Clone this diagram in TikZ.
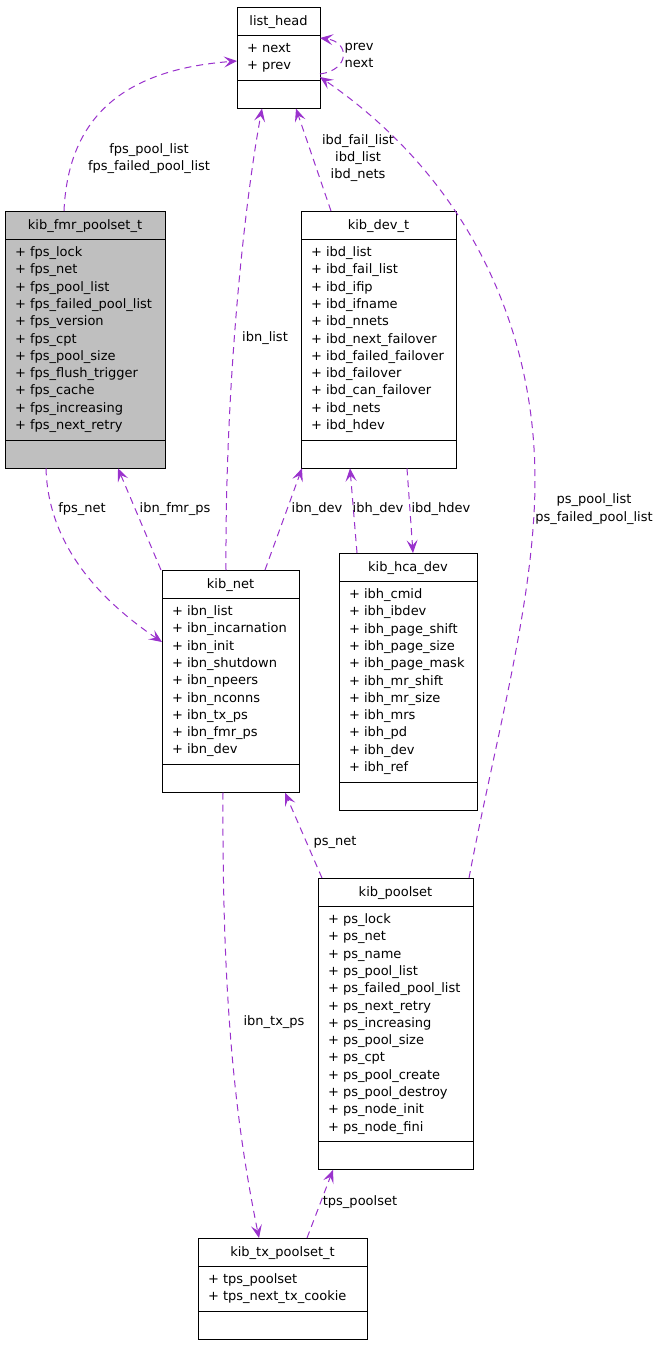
\documentclass[tikz,border=0pt]{standalone}
\usepackage{fontspec}
\setmainfont{DejaVu Sans}
\usetikzlibrary{arrows.meta,calc}
\definecolor{edgec}{HTML}{9A32CD}
\definecolor{fmrfill}{HTML}{BFBFBF}
\tikzset{
  classbox/.style={draw=black, line width=1pt, inner sep=0pt, outer sep=0pt, rectangle},
  sepline/.style={draw=black, line width=1pt},
  txt/.style={inner sep=0pt, outer sep=0pt, font=\fontsize{13}{17.3}\selectfont},
  lbl/.style={inner sep=0pt, outer sep=0pt, align=center, font=\fontsize{13}{17.3}\selectfont},
  rel/.style={draw=edgec, line width=1pt, dash pattern=on 7pt off 5pt,
    -{Stealth[length=13pt,width=11pt,inset=5.5pt]}, edgec},
}
% #1 fill, #2 name, #3 x, #4 y, #5 width, #6 rows, #7 title, #8 attributes
\newcommand{\umlclass}[8][white]{%
  \pgfmathsetmacro\umlah{11+17.3*#6}%
  \pgfmathsetmacro\umltot{56+\umlah}%
  \node[classbox, fill=#1, minimum width=#5pt, minimum height=\umltot pt, anchor=north west] (#2) at (#3,#4) {};
  \draw[sepline] ($(#2.north west)+(0,28)$) -- ($(#2.north east)+(0,28)$);
  \draw[sepline] ($(#2.south west)+(0,-28)$) -- ($(#2.south east)+(0,-28)$);
  \node[txt, anchor=base] (#2-t) at ($(#2.north)+(0,18.5)$) {#7};
  \foreach \a [count=\i] in {#8} {
    \node[txt, anchor=base west] (#2-a\i) at ($(#2.north west)+(10,{45.5+17.3*(\i-1)})$) {\a};
  }
}
\begin{document}
\begin{tikzpicture}[x=1pt,y=-1pt]
\useasboundingbox[fill=white] (0,0) rectangle (660,1347);

\umlclass{lh}{237}{7}{83}{2}{list\_head}{+ next,+ prev}
\umlclass[fmrfill]{fmr}{5}{211}{160}{11}{kib\_fmr\_poolset\_t}{+ fps\_lock,+ fps\_net,+ fps\_pool\_list,+ fps\_failed\_pool\_list,+ fps\_version,+ fps\_cpt,+ fps\_pool\_size,+ fps\_flush\_trigger,+ fps\_cache,+ fps\_increasing,+ fps\_next\_retry}
\umlclass{dev}{301}{211}{155}{11}{kib\_dev\_t}{+ ibd\_list,+ ibd\_fail\_list,+ ibd\_ifip,+ ibd\_ifname,+ ibd\_nnets,+ ibd\_next\_failover,+ ibd\_failed\_failover,+ ibd\_failover,+ ibd\_can\_failover,+ ibd\_nets,+ ibd\_hdev}
\umlclass{net}{162}{570}{137}{9}{kib\_net}{+ ibn\_list,+ ibn\_incarnation,+ ibn\_init,+ ibn\_shutdown,+ ibn\_npeers,+ ibn\_nconns,+ ibn\_tx\_ps,+ ibn\_fmr\_ps,+ ibn\_dev}
\umlclass{hca}{339}{553}{138}{11}{kib\_hca\_dev}{+ ibh\_cmid,+ ibh\_ibdev,+ ibh\_page\_shift,+ ibh\_page\_size,+ ibh\_page\_mask,+ ibh\_mr\_shift,+ ibh\_mr\_size,+ ibh\_mrs,+ ibh\_pd,+ ibh\_dev,+ ibh\_ref}
\umlclass{ps}{318}{878}{155}{13}{kib\_poolset}{+ ps\_lock,+ ps\_net,+ ps\_name,+ ps\_pool\_list,+ ps\_failed\_pool\_list,+ ps\_next\_retry,+ ps\_increasing,+ ps\_pool\_size,+ ps\_cpt,+ ps\_pool\_create,+ ps\_pool\_destroy,+ ps\_node\_init,+ ps\_node\_fini}
\umlclass{tx}{198}{1238}{169}{2}{kib\_tx\_poolset\_t}{+ tps\_poolset,+ tps\_next\_tx\_cookie}

% connectors
\draw[rel] ($(fmr.north west)+(59,0)$) .. controls (68,120) and (120,70) .. ($(lh.north west)+(0,54)$);
\draw[rel] ($(lh.north east)+(0,67)$) .. controls (350,70) and (350,42) .. ($(lh.north east)+(0,31)$);
\draw[rel] ($(net.north west)+(64,0)$) .. controls (225,380) and (245,200) .. ($(lh.south west)+(25,0)$);
\draw[rel] ($(dev.north west)+(30,0)$) -- ($(lh.south west)+(59,0)$);
\coordinate (psmid) at (535,480);
\draw[rel] ($(ps.north west)+(151,0)$) .. controls (495,740) and (535,600) .. (psmid)
  .. controls (535,330) and (470,180) .. ($(lh.north east)+(0,70)$);
\draw[rel] ($(fmr.south west)+(41,0)$) .. controls (48,545) and (100,600) .. ($(net.north west)+(0,72)$);
\draw[rel] ($(net.north west)+(-1,0)$) -- ($(fmr.south west)+(113,0)$);
\draw[rel] ($(net.north west)+(103,0)$) -- ($(dev.south west)+(1,0)$);
\draw[rel] ($(hca.north west)+(18,0)$) -- ($(dev.south west)+(49,0)$);
\draw[rel] ($(dev.south west)+(106,0)$) -- ($(hca.north west)+(74,0)$);
\draw[rel] ($(ps.north west)+(4,0)$) -- ($(net.south west)+(123,0)$);
\draw[rel] ($(net.south west)+(61,0)$) .. controls (222,1000) and (235,1120) .. ($(tx.north west)+(61,0)$);
\draw[rel] ($(tx.north west)+(109,0)$) -- ($(ps.south west)+(15,0)$);

% labels
\node[lbl] (l1) at (149,158.5) {fps\_pool\_list\\fps\_failed\_pool\_list};
\node[lbl] (l2) at (359,55.5) {prev\\next};
\node[lbl] (l3) at (358,158) {ibd\_fail\_list\\ibd\_list\\ibd\_nets};
\node[lbl] (l4) at (265,338) {ibn\_list};
\node[lbl] (l5) at (82,509) {fps\_net};
\node[lbl] (l6) at (175,509) {ibn\_fmr\_ps};
\node[lbl] (l7) at (317,509) {ibn\_dev};
\node[lbl] (l8) at (378,509) {ibh\_dev};
\node[lbl] (l9) at (441,509) {ibd\_hdev};
\node[lbl] (l10) at (594,509) {ps\_pool\_list\\ps\_failed\_pool\_list};
\node[lbl] (l11) at (335,842) {ps\_net};
\node[lbl] (l12) at (274,1022) {ibn\_tx\_ps};
\node[lbl] (l13) at (360,1202) {tps\_poolset};
\end{tikzpicture}
\end{document}
